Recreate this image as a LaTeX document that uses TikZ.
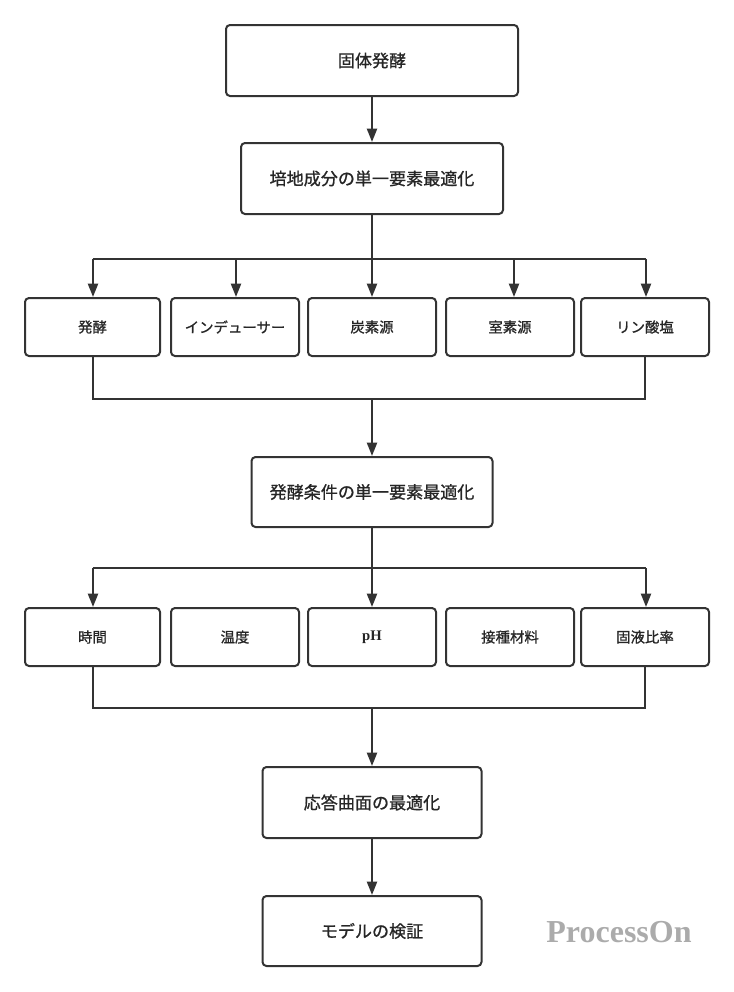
\documentclass[tikz,border=0pt]{standalone}
\usepackage{fontspec}
\newfontfamily\jpfont[FakeBold=0.9]{Noto Sans CJK JP}
\newfontfamily\wmfont{Liberation Serif}
\usepackage{tikz}
\usetikzlibrary{positioning,arrows.meta,calc}

\definecolor{linegray}{HTML}{333333}
\definecolor{markgray}{HTML}{ABABAB}

\begin{document}
\begin{tikzpicture}[
  x=0.75pt, y=-0.75pt,
  >={Triangle[width=7.5pt,length=10pt]},
  box/.style={draw=linegray, line width=1.5pt, rounded corners=3pt, fill=white, inner sep=0pt, align=center, font=\jpfont\fontsize{12.8}{15}\selectfont, text=black!85},
  item/.style={box, minimum width=96pt, minimum height=43.5pt, font=\jpfont\fontsize{10.8}{13}\selectfont},
  wire/.style={draw=linegray, line width=1.5pt},
  arr/.style={->, wire},
]
\useasboundingbox (0,0) rectangle (734,992);

% Main column
\node[box, minimum width=219pt, minimum height=53.25pt] (kotai) at (372,60.5) {固体発酵};
\node[box, minimum width=196.5pt, minimum height=53.25pt] (baichi) at (372,178.5) {培地成分の単一要素最適化};

% Medium components
\node[item, minimum width=101.25pt] (hakko) at (92.5,327) {発酵};
\node[item] (inducer) at (235,327) {インデューサー};
\node[item] (tanso) at (372,327) {炭素源};
\node[item] (chisso) at (510,327) {室素源};
\node[item] (rin) at (645,327) {リン酸塩};

\node[box, minimum width=180.75pt, minimum height=52.5pt] (jouken) at (372,492) {発酵条件の単一要素最適化};

% Fermentation conditions
\node[item, minimum width=101.25pt] (jikan) at (92.5,637) {時間};
\node[item] (ondo) at (235,637) {温度};
\node[item, font=\wmfont\bfseries\fontsize{11}{13}\selectfont] (ph) at (372,637) {pH};
\node[item] (sesshu) at (510,637) {接種材料};
\node[item] (koeki) at (645,637) {固液比率};

\node[box, minimum width=164.25pt, minimum height=53.25pt] (outou) at (372,802.5) {応答曲面の最適化};
\node[box, minimum width=164.25pt, minimum height=52.5pt] (model) at (372,931) {モデルの検証};

% Watermark
\node[font=\wmfont\bfseries\fontsize{24}{28}\selectfont, text=markgray] (mark) at (619,932) {ProcessOn};

% Bus points
\coordinate (up1) at (372,259);
\coordinate (low1) at (372,398.5);
\coordinate (up2) at (372,568);
\coordinate (low2) at (372,708);

% Arrows
\draw[arr] (kotai) -- (baichi);

\draw[wire] (baichi.south) -- (up1);
\draw[wire] (hakko.north |- up1) -- (646,259);
\foreach \n/\x in {hakko/93, inducer/236, tanso/372, chisso/514, rin/646}
  \draw[arr] (\x,259) -- (\x,0 |- \n.north);

\draw[wire] (hakko.south) |- (low1) -| (rin.south);
\draw[arr] (low1) -- (jouken.north);

\draw[wire] (jouken.south) -- (up2);
\draw[wire] (hakko.north |- up2) -- (646,568);
\foreach \n/\x in {jikan/93, ph/372, koeki/646}
  \draw[arr] (\x,568) -- (\x,0 |- \n.north);

\draw[wire] (jikan.south) |- (low2) -| (koeki.south);
\draw[arr] (low2) -- (outou.north);

\draw[arr] (outou) -- (model);

\end{tikzpicture}
\end{document}
